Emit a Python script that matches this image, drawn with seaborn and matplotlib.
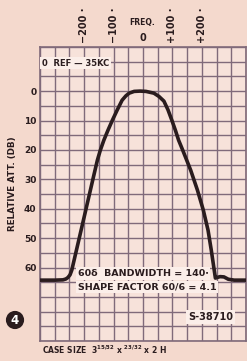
import matplotlib
matplotlib.use("Agg")
import matplotlib.pyplot as plt
import seaborn as sns
import pandas as pd
import numpy as np

# Data
freq = [-350, -300, -272, -262, -255, -248, -242, -205, -167, -155, -145, -133, -119, -104,
        -87, -71, -58, -47, -30, -10, 10, 37, 54, 71, 85, 98, 110, 121, 135, 162, 185, 205,
        221, 232, 242, 246, 252, 262, 275, 290, 310, 350]
att = [64.3, 64.3, 64.2, 63.9, 63.4, 62.5, 60.9, 45, 28.6, 23.5, 20.1, 16.7, 13.3, 9.9,
       6.3, 3.1, 1.6, 0.7, 0.1, 0, 0.1, 0.7, 1.8, 3.4, 6.4, 9.9, 13.3, 16.7, 20.1, 26.9,
       33.7, 40.5, 47.3, 54.1, 60.9, 63.6, 63.4, 63.1, 63.2, 64, 64.3, 64.3]
x_ticks = [-200, -100, 0, 100, 200]
x_tick_labels = ["\u2212200 \u00b7", "\u2212100 \u00b7", "0", "+100 \u00b7", "+200 \u00b7"]
y_ticks = [0, 10, 20, 30, 40, 50, 60]
y_tick_labels = ["0", "10", "20", "30", "40", "50", "60"]

bg = "#f4d9cd"
grid_c = "#806a7a"
ink = "#2a1c1e"

sns.set_style("white")
plt.rcParams['font.family'] = ['DejaVu Sans']
plt.rcParams['font.weight'] = 'bold'

fig = plt.figure(figsize=(2.47, 3.61), dpi=100, facecolor=bg)
ax = fig.add_axes([40/247, 20/361, 206/247, 294/361])
ax.set_facecolor("#f7e2da")

df = pd.DataFrame({"freq": freq, "att": att})
sns.lineplot(data=df, x="freq", y="att", ax=ax, color=ink, linewidth=2.6, sort=False,
             zorder=3)
ax.lines[-1].set_solid_joinstyle("round")

ax.set_xlim(-350, 350)
ax.set_ylim(85, -15)
ax.set_xticks(np.arange(-350, 351, 50), minor=True)
ax.set_yticks(np.arange(-15, 86, 5), minor=True)
ax.set_axisbelow(True)
ax.grid(True, which="both", color=grid_c, linewidth=1.0)
for s in ax.spines.values():
    s.set_color(grid_c)
    s.set_linewidth(1.2)

ax.set_xticks(x_ticks)
ax.set_xticklabels(x_tick_labels)
ax.xaxis.tick_top()
ax.tick_params(axis="x", which="major", length=0, pad=3, labelsize=7, colors=ink)
for lbl, t in zip(ax.get_xticklabels(), x_tick_labels):
    if t != "0":
        lbl.set_rotation(90)
    lbl.set_fontweight("bold")
ax.tick_params(axis="x", which="minor", length=0)

ax.set_yticks(y_ticks)
ax.set_yticklabels(y_tick_labels)
ax.tick_params(axis="y", which="major", length=0, pad=2.5, labelsize=6.5, colors=ink)
ax.tick_params(axis="y", which="minor", length=0)
for lbl in ax.get_yticklabels():
    lbl.set_fontweight("bold")
ax.set_xlabel("")
ax.set_ylabel("")
fig.text(12/247, 1 - 184/361, "RELATIVE ATT. (DB)", fontsize=6.3, fontweight="bold",
         color=ink, rotation=90, ha="center", va="center")

box = dict(boxstyle="square,pad=0.2", facecolor="#fbeee9", edgecolor="none")
ax.text(-343, -9.5, "0  REF \u2014 35KC", fontsize=6, fontweight="bold", color=ink,
        va="center", ha="left", bbox=box, zorder=4)
ax.text(-222, 62, "60\u03b4  BANDWIDTH = 140\u2219", fontsize=6.8, fontweight="bold",
        color=ink, va="center", ha="left", bbox=box, zorder=4)
ax.text(-222, 66.6, "SHAPE FACTOR 60/6 = 4.1", fontsize=6.8, fontweight="bold",
        color=ink, va="center", ha="left", bbox=box, zorder=4)
ax.text(153, 76.8, "S-38710", fontsize=7, fontweight="bold", color=ink,
        va="center", ha="left", bbox=box, zorder=4)

fig.text(142/247, 1 - 22/361, "FREQ.", fontsize=5.5, fontweight="bold", color=ink,
         ha="center", va="center")
fig.text(15/247, 1 - 320/361, "4", fontsize=8.5, fontweight="bold", color="white",
         ha="center", va="center",
         bbox=dict(boxstyle="circle,pad=0.22", facecolor=ink, edgecolor="none"))
fig.text(42/247, 1 - 350/361, "CASE SIZE  3$^{15/32}$ x $^{23/32}$ x 2 H", fontsize=5.5,
         fontweight="bold", color=ink, ha="left", va="center")

fig.savefig("out.png", dpi=100, facecolor=bg)
